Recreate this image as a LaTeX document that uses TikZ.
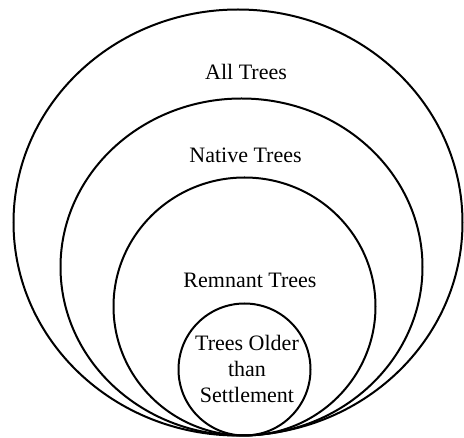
\documentclass[tikz,border=0pt]{standalone}
\usepackage{fontspec}
\setmainfont{Liberation Serif}
\usetikzlibrary{shapes.geometric}
\begin{document}
\begin{tikzpicture}[x=1pt,y=1pt,
  ring/.style={ellipse, draw=black, line width=2pt, inner sep=0pt},
  lbl/.style={font=\fontsize{22}{26}\selectfont, inner sep=0pt, align=center}]
\useasboundingbox (0,0) rectangle (464,-438);
\node[ring, minimum width=449, minimum height=426] (all) at (238,-222.5) {};
\node[ring, minimum width=362, minimum height=337] (native) at (241.5,-267) {};
\node[ring, minimum width=262, minimum height=258] (remnant) at (244.5,-306.5) {};
\node[ring, minimum width=132, minimum height=132] (older) at (244.5,-369.5) {};
\node[lbl] (tall) at (246,-72) {All Trees};
\node[lbl] (tnative) at (245.5,-155) {Native Trees};
\node[lbl] (tremnant) at (250,-280) {Remnant Trees};
\node[lbl, text depth=0pt] (tolder) at (247,-369) {Trees Older\\than\\Settlement};
\end{tikzpicture}
\end{document}
